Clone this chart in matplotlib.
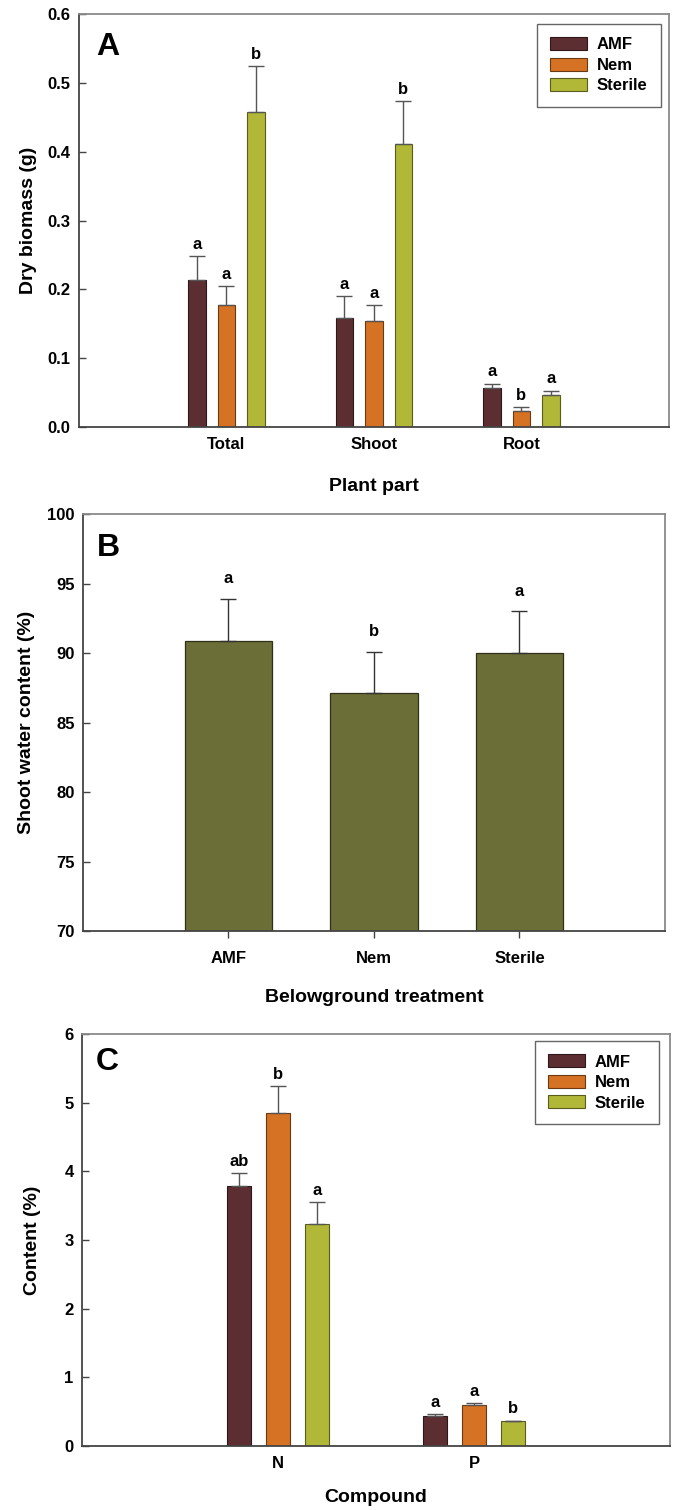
import matplotlib
matplotlib.use("Agg")
import matplotlib.pyplot as plt
import numpy as np

plt.rcParams['font.family'] = ['Liberation Sans', 'DejaVu Sans']
plt.rcParams['font.weight'] = 'bold'

# ---------------- data ----------------
treatments = ["AMF", "Nem", "Sterile"]

# panel A - dry biomass (g)
parts = ["Total", "Shoot", "Root"]
biomass = {
    "AMF":     [0.214, 0.159, 0.056],
    "Nem":     [0.178, 0.154, 0.024],
    "Sterile": [0.458, 0.411, 0.047],
}
biomass_se = {
    "AMF":     [0.034, 0.031, 0.007],
    "Nem":     [0.027, 0.023, 0.005],
    "Sterile": [0.066, 0.062, 0.006],
}
biomass_letters = {
    "AMF":     ["a", "a", "a"],
    "Nem":     ["a", "a", "b"],
    "Sterile": ["b", "b", "a"],
}

# panel B - shoot water content (%)
water = [90.9, 87.1, 90.0]
water_se = [3.0, 3.0, 3.0]
water_letters = ["a", "b", "a"]

# panel C - nutrient content (%)
compounds = ["N", "P"]
content = {
    "AMF":     [3.79, 0.44],
    "Nem":     [4.85, 0.59],
    "Sterile": [3.23, 0.36],
}
content_se = {
    "AMF":     [0.19, 0.02],
    "Nem":     [0.39, 0.04],
    "Sterile": [0.32, 0.01],
}
content_letters = {
    "AMF":     ["ab", "a"],
    "Nem":     ["b", "a"],
    "Sterile": ["a", "b"],
}

colors = {"AMF": "#5c2e31", "Nem": "#d67224", "Sterile": "#b1b737"}
edge = {"AMF": "#2e1718", "Nem": "#6b3912", "Sterile": "#595c1c"}
olive = "#6b6e36"
TICK_FS = 12

fig = plt.figure(figsize=(6.75, 15.1), dpi=100)
axA = fig.add_axes([0.117, 0.7172, 0.874, 0.2735])
axB = fig.add_axes([0.123, 0.3834, 0.862, 0.2762])
axC = fig.add_axes([0.1215, 0.0424, 0.871, 0.2728])


def style_axes(ax):
    for s in ["left", "bottom"]:
        ax.spines[s].set_color("#444444")
        ax.spines[s].set_linewidth(1.3)
    for s in ["top", "right"]:
        ax.spines[s].set_color("#8a8a8a")
        ax.spines[s].set_linewidth(1.3)
    ax.tick_params(axis="y", direction="in", length=5, width=1, color="#444444", pad=6)
    for lab in ax.get_yticklabels() + ax.get_xticklabels():
        lab.set_fontweight("bold")
        lab.set_fontsize(TICK_FS)


def grouped(ax, groups, vals, errs, letters, width=0.12, step=0.2):
    x = np.arange(1, len(groups) + 1)
    for i, t in enumerate(treatments):
        xi = x + (i - 1) * step
        ax.bar(xi, vals[t], width, color=colors[t], edgecolor=edge[t],
               linewidth=0.8, label=t, zorder=2)
        ax.errorbar(xi, vals[t], yerr=[np.zeros(len(groups)), errs[t]],
                    fmt="none", ecolor="#555555", elinewidth=1, capsize=6,
                    capthick=1, zorder=3)
        for xx, v, e, l in zip(xi, vals[t], errs[t], letters[t]):
            ax.annotate(l, (xx, v + e), xytext=(0, 3), textcoords="offset points",
                        ha="center", va="bottom", fontsize=12, fontweight="bold")
    ax.set_xticks(x)
    ax.set_xticklabels(groups)
    ax.tick_params(axis="x", length=0, pad=7)


def legend(ax, anchor):
    leg = ax.legend(loc="upper right", bbox_to_anchor=anchor, fancybox=False,
                    edgecolor="#666666", framealpha=1, handlelength=2.2,
                    handleheight=0.8, handletextpad=0.6, labelspacing=0.32,
                    borderpad=0.8, borderaxespad=0,
                    prop={"size": 12, "weight": "bold"})
    leg.get_frame().set_linewidth(1)


# ---------------- panel A ----------------
grouped(axA, parts, biomass, biomass_se, biomass_letters)
axA.set_xlim(0, 4)
axA.set_ylim(0, 0.6)
axA.set_yticks(np.arange(0, 0.61, 0.1))
axA.set_yticklabels([f"{v:.1f}" for v in np.arange(0, 0.61, 0.1)])
axA.set_ylabel("Dry biomass (g)", fontsize=14, fontweight="bold", labelpad=8)
axA.set_xlabel("Plant part", fontsize=14, fontweight="bold", labelpad=19)
legend(axA, (0.986, 0.976))
axA.text(0.03, 0.956, "A", transform=axA.transAxes, fontsize=23,
         fontweight="bold", va="top", ha="left")
style_axes(axA)

# ---------------- panel B ----------------
xb = np.arange(1, len(treatments) + 1)
axB.bar(xb, water, 0.6, color=olive, edgecolor="#2f3017", linewidth=0.9, zorder=2)
axB.errorbar(xb, water, yerr=[np.zeros(len(xb)), water_se], fmt="none",
             ecolor="#333333", elinewidth=1, capsize=6, capthick=1, zorder=3)
for xx, v, e, l in zip(xb, water, water_se, water_letters):
    axB.annotate(l, (xx, v + e), xytext=(0, 9), textcoords="offset points",
                 ha="center", va="bottom", fontsize=12, fontweight="bold")
axB.set_xlim(0, 4)
axB.set_ylim(70, 100)
axB.set_yticks(np.arange(70, 101, 5))
axB.set_xticks(xb)
axB.set_xticklabels(treatments)
axB.tick_params(axis="x", direction="out", length=5, width=1, color="#444444", pad=9)
axB.set_ylabel("Shoot water content (%)", fontsize=14, fontweight="bold", labelpad=9)
axB.set_xlabel("Belowground treatment", fontsize=14, fontweight="bold", labelpad=17)
axB.text(0.024, 0.954, "B", transform=axB.transAxes, fontsize=23,
         fontweight="bold", va="top", ha="left")
style_axes(axB)

# ---------------- panel C ----------------
grouped(axC, compounds, content, content_se, content_letters)
axC.set_xlim(0, 3)
axC.set_ylim(0, 6)
axC.set_yticks(np.arange(0, 7, 1))
axC.set_ylabel("Content (%)", fontsize=14, fontweight="bold", labelpad=17)
axC.set_xlabel("Compound", fontsize=14, fontweight="bold", labelpad=13)
legend(axC, (0.981, 0.983))
axC.text(0.024, 0.968, "C", transform=axC.transAxes, fontsize=23,
         fontweight="bold", va="top", ha="left")
style_axes(axC)

fig.savefig("out.png", dpi=100)
